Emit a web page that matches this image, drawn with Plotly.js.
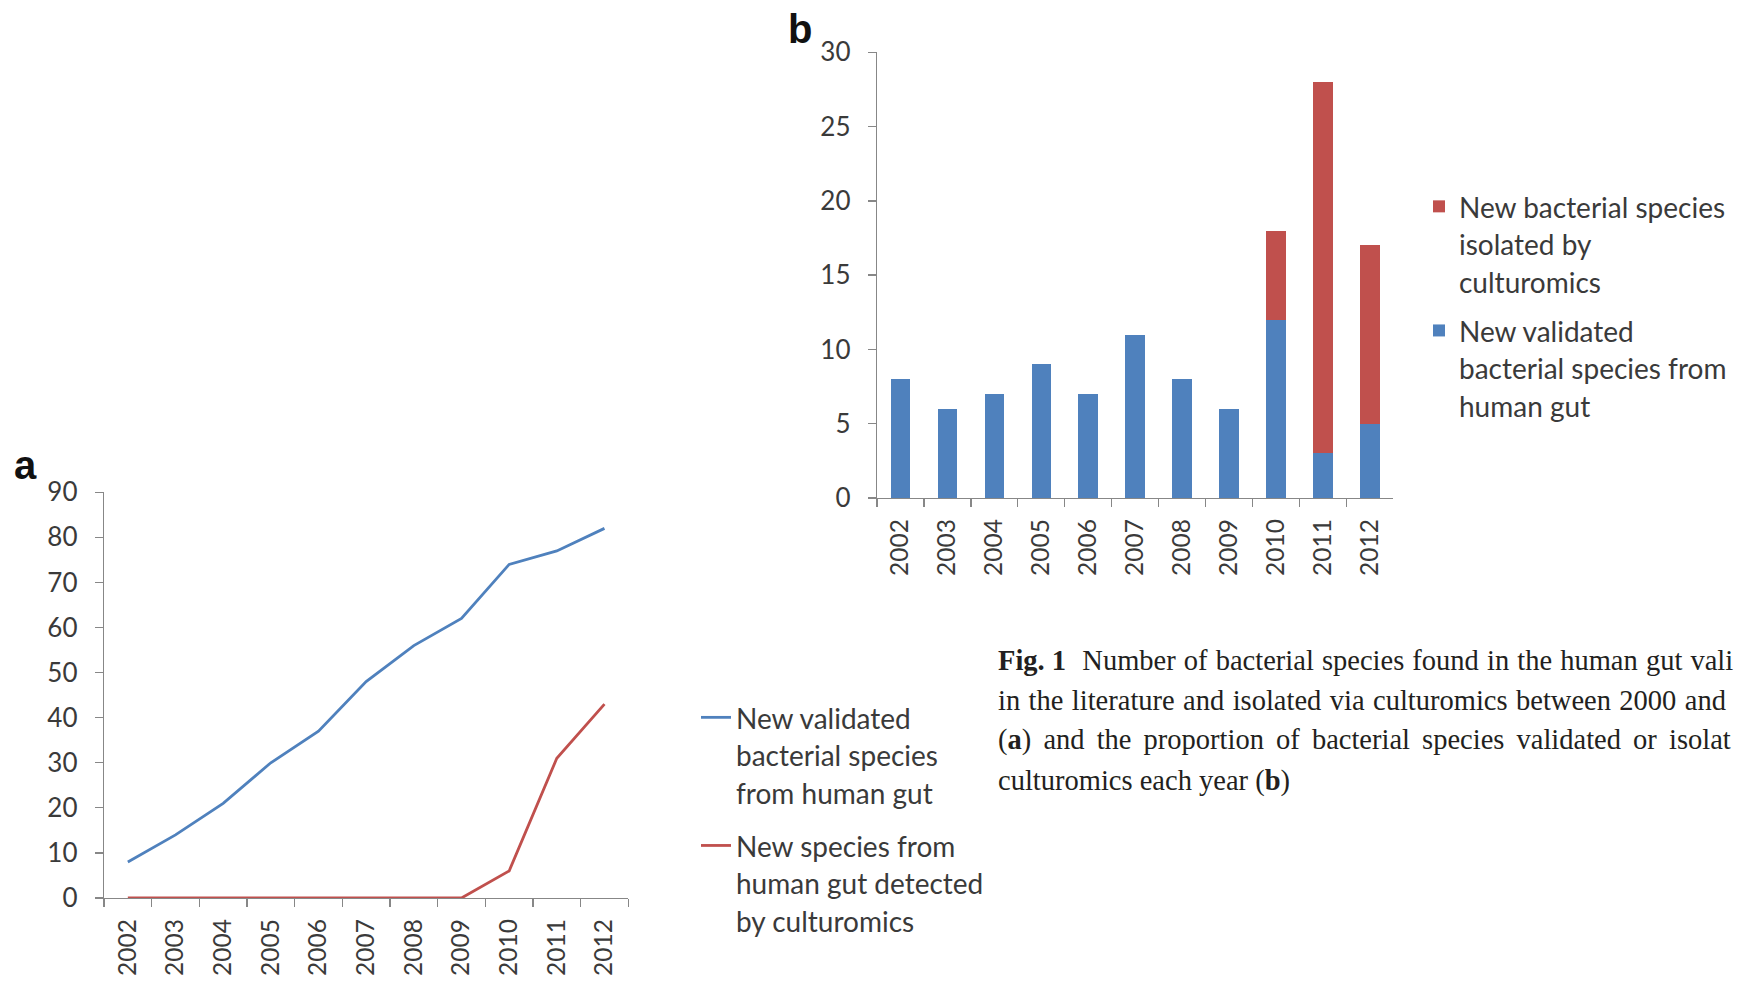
<!DOCTYPE html>
<html>
<head>
<meta charset="utf-8">
<script src="https://cdn.plot.ly/plotly-3.0.1.min.js"></script>
<style>
  html, body { margin: 0; padding: 0; background: #ffffff; overflow: hidden; }
  #chart { width: 1737px; height: 982px; }
</style>
</head>
<body>
<div id="chart"></div>
<script>
// ---- Data ----
const years = ['2002', '2003', '2004', '2005', '2006', '2007', '2008', '2009', '2010', '2011', '2012'];
// Panel a: cumulative counts
const cumValidated = [8, 14, 21, 30, 37, 48, 56, 62, 74, 77, 82];
const cumCulturomics = [0, 0, 0, 0, 0, 0, 0, 0, 6, 31, 43];
// Panel b: counts per year
const yearValidated = [8, 6, 7, 9, 7, 11, 8, 6, 12, 3, 5];
const yearCulturomics = [0, 0, 0, 0, 0, 0, 0, 0, 6, 25, 12];

const legendA = ['New validated', 'bacterial species', 'from human gut'];
const legendA2 = ['New species from', 'human gut detected', 'by culturomics'];
const legendB1 = ['New bacterial species', 'isolated by', 'culturomics'];
const legendB2 = ['New validated', 'bacterial species from', 'human gut'];
// Caption as visible in the figure (cut at the right edge of the picture)
const captionLines = [
  '<b>Fig. 1</b><span style="word-spacing:1px">  Number of bacterial species found in the human gut vali</span>',
  '<span style="word-spacing:1.3px">in the literature and isolated via culturomics between 2000 and</span>',
  '(<b>a</b>)<span style="word-spacing:5px"> and the proportion of bacterial species validated or isolat</span>',
  'culturomics each year (<b>b</b>)'
];

// ---- Style ----
const BLUE = '#4F81BD';
const RED = '#C0504D';
const AXIS = '#878787';
const TXT = '#3a3a3a';
const FONT = 'Lato, "Open Sans", sans-serif';
const W = 1737, H = 982;
const px = v => v / W;
const py = v => (H - v) / H;

function legendText(lines, size) {
  return lines.map(l => `<span style="font-size:${size}px">${l}</span>`).join('<br>');
}

const traces = [
  {
    type: 'scatter', mode: 'lines', x: years, y: cumValidated,
    xaxis: 'x', yaxis: 'y', cliponaxis: false,
    line: { color: BLUE, width: 2.8 },
    name: legendText(legendA, 28), legend: 'legend', legendgroup: 'a1', legendrank: 1
  },
  {
    type: 'scatter', mode: 'lines', x: years, y: cumCulturomics,
    xaxis: 'x', yaxis: 'y', cliponaxis: false,
    line: { color: RED, width: 2.8 },
    name: legendText(legendA2, 28), legend: 'legend', legendgroup: 'a2', legendrank: 2
  },
  {
    type: 'bar', x: years, y: yearValidated, xaxis: 'x2', yaxis: 'y2',
    marker: { color: BLUE, line: { width: 0 } },
    name: legendText(legendB2, 28), legend: 'legend2', legendgroup: 'b2', legendrank: 2
  },
  {
    type: 'bar', x: years, y: yearCulturomics, xaxis: 'x2', yaxis: 'y2',
    marker: { color: RED, line: { width: 0 } },
    name: legendText(legendB1, 28), legend: 'legend2', legendgroup: 'b1', legendrank: 1
  }
];

const axisCommon = {
  showline: true, linecolor: AXIS, linewidth: 1.3,
  ticks: 'outside', tickcolor: AXIS, tickwidth: 1.3, ticklen: 8,
  showgrid: false, zeroline: false,
  tickfont: { family: FONT, size: 26, color: TXT },
  fixedrange: true
};
const xTickFont = { family: FONT, size: 24.5, color: TXT };

const captionAnn = captionLines.map((t, i) => ({
  xref: 'paper', yref: 'paper', x: px(996), y: py([660, 700, 740, 781][i]),
  xanchor: 'left', yanchor: 'middle', showarrow: false, align: 'left',
  text: t, font: { family: '"Liberation Serif", "Times New Roman", serif', size: 28.5, color: '#231f20' }
}));

const layout = {
  width: W, height: H,
  margin: { l: 0, r: 0, t: 0, b: 0, pad: 0 },
  paper_bgcolor: '#ffffff', plot_bgcolor: '#ffffff',
  barmode: 'stack', bargap: 0.585,
  font: { family: FONT, color: TXT },
  xaxis: Object.assign({}, axisCommon, {
    domain: [px(104), px(628.3)], anchor: 'y', type: 'category',
    range: [-0.5, 10.5], tickson: 'boundaries', tickangle: -90, ticklabelstandoff: 10,
    tickfont: xTickFont
  }),
  yaxis: Object.assign({}, axisCommon, {
    domain: [py(898), py(492.3)], anchor: 'x',
    range: [0, 90], dtick: 10, tick0: 0, ticklabelstandoff: 12
  }),
  xaxis2: Object.assign({}, axisCommon, {
    domain: [px(877), px(1393.3)], anchor: 'y2', type: 'category',
    range: [-0.5, 10.5], tickson: 'boundaries', tickangle: -90, ticklabelstandoff: 10,
    tickfont: xTickFont
  }),
  yaxis2: Object.assign({}, axisCommon, {
    domain: [py(498), py(52.3)], anchor: 'x2',
    range: [0, 30], dtick: 5, tick0: 0, ticklabelstandoff: 12
  }),
  showlegend: true,
  legend: {
    x: px(696), y: py(692), xanchor: 'left', yanchor: 'top',
    bgcolor: 'rgba(0,0,0,0)', borderwidth: 0,
    font: { family: FONT, size: 29, color: TXT },
    traceorder: 'grouped', tracegroupgap: 12, valign: 'top', itemclick: false
  },
  legend2: {
    x: px(1419), y: py(181), xanchor: 'left', yanchor: 'top',
    bgcolor: 'rgba(0,0,0,0)', borderwidth: 0,
    font: { family: FONT, size: 29, color: TXT },
    traceorder: 'grouped', tracegroupgap: 8, valign: 'top', itemclick: false
  },
  annotations: [
    { xref: 'paper', yref: 'paper', x: px(25), y: py(465), xanchor: 'center', yanchor: 'middle',
      showarrow: false, text: '<b>a</b>', font: { family: '"Liberation Sans", Arial, sans-serif', size: 40, color: '#111' } },
    { xref: 'paper', yref: 'paper', x: px(800), y: py(29), xanchor: 'center', yanchor: 'middle',
      showarrow: false, text: '<b>b</b>', font: { family: '"Liberation Sans", Arial, sans-serif', size: 40, color: '#111' } }
  ].concat(captionAnn)
};

Plotly.newPlot('chart', traces, layout, { staticPlot: true, displayModeBar: false });
</script>
</body>
</html>
